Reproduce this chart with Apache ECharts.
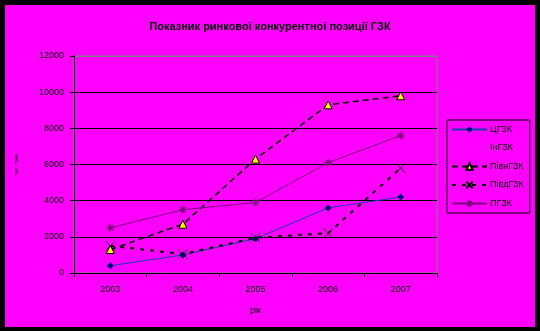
<!DOCTYPE html>
<html><head><meta charset="utf-8">
<script src="https://cdn.jsdelivr.net/npm/echarts@6/dist/echarts.min.js"></script>
<style>html,body{margin:0;padding:0;background:#000;}#c{width:540px;height:331px;}</style>
</head><body><div id="c"></div>
<script>
const years = ['2003','2004','2005','2006','2007'];
const yTicks = [0,2000,4000,6000,8000,10000,12000];
const cgzk = [400, 1000, 1900, 3600, 4200];
const ingzk = [null, null, null, null, null];
const pivngzk = [1300, 2700, 6300, 9300, 9800];
const pivdgzk = [1500, 1050, 1950, 2200, 5800];
const pgzk = [2500, 3500, 3900, 6100, 7600];
const seriesNames = ['ЦГЗК','ІнГЗК','ПівнГЗК','ПівдГЗК','ПГЗК'];

const font = 'Arial, "Liberation Sans", sans-serif';
const xPath = 'path://M0,0L10,10M10,0L0,10';
const starPath = 'path://M5,0L5,10M0,5L10,5M1.5,1.5L8.5,8.5M8.5,1.5L1.5,8.5';

const chart = echarts.init(document.getElementById('c'), null, {renderer:'canvas'});
chart.setOption({
  backgroundColor: '#000',
  animation: false,
  graphic: [{type:'rect', shape:{x:5,y:5,width:530,height:322}, style:{fill:'#ff00ff'}, z:-10}],
  title: {
    text: 'Показник ринкової конкурентної позиції ГЗК',
    left: 'center', top: 16,
    textStyle: {fontFamily: font, fontSize: 11, fontWeight: 'bold', color: '#000'}
  },
  grid: {left: 74, top: 56, width: 363, height: 217, show: true, borderColor: '#808080', borderWidth: 1, backgroundColor: 'transparent'},
  legend: {
    orient: 'vertical', left: 447, top: 120,
    width: 85,
    padding: [5, 6, 5, 4],
    borderColor: '#000', borderWidth: 1,
    itemWidth: 35, itemHeight: 8, itemGap: 9.5,
    textStyle: {fontFamily: font, fontSize: 9, color: '#000', padding:[0,0,0,-2]},
    data: seriesNames
  },
  xAxis: {
    type: 'category', data: years,
    name: 'рік', nameLocation: 'middle', nameGap: 33,
    nameTextStyle: {fontFamily: font, fontSize: 9, color: '#000'},
    axisLine: {lineStyle: {color: '#000', width: 1}},
    axisTick: {show: true, length: 4, lineStyle: {color: '#000'}},
    axisLabel: {fontFamily: font, fontSize: 9, color: '#000', margin: 12},
    boundaryGap: true
  },
  yAxis: {
    type: 'value', min: 0, max: 12000, interval: 2000,
    name: 'тис. тонн', nameLocation: 'middle', nameGap: 55, nameRotate: 90,
    nameTextStyle: {fontFamily: font, fontSize: 5, color: '#000'},
    axisLine: {show: true, lineStyle: {color: '#000', width: 1}},
    axisTick: {show: true, length: 4, lineStyle: {color: '#000'}},
    axisLabel: {fontFamily: font, fontSize: 9, color: '#000', margin: 10, formatter: v => String(v)},
    splitLine: {show: true, lineStyle: {color: ['#000','#000','#000','#000','#000','#000','#808080'], width: 1}}
  },
  series: [
    {name: 'ЦГЗК', type: 'line', data: cgzk, symbol: 'diamond', symbolSize: 7,
     lineStyle: {color: '#1a3cb0', width: 1}, itemStyle: {color: '#000080'}},
    {name: 'ІнГЗК', type: 'line', data: ingzk, symbol: 'none',
     lineStyle: {opacity: 0}, itemStyle: {color: 'rgba(0,0,0,0)'}},
    {name: 'ПівнГЗК', type: 'line', data: pivngzk, symbol: 'triangle', symbolSize: 8,
     lineStyle: {color: '#000', width: 1.5, type: [6, 4]},
     itemStyle: {color: '#ffff00', borderColor: '#000', borderWidth: 1}},
    {name: 'ПівдГЗК', type: 'line', data: pivdgzk, symbol: xPath, symbolSize: 10,
     lineStyle: {color: '#000', width: 2, type: [4, 6]},
     itemStyle: {color: 'rgba(0,0,0,0)', borderColor: '#000', borderWidth: 0.8}},
    {name: 'ПГЗК', type: 'line', data: pgzk, symbol: starPath, symbolSize: 8,
     lineStyle: {color: '#800080', width: 1},
     itemStyle: {color: '#800080', borderColor: '#800080', borderWidth: 1.2}}
  ]
});
</script></body></html>
